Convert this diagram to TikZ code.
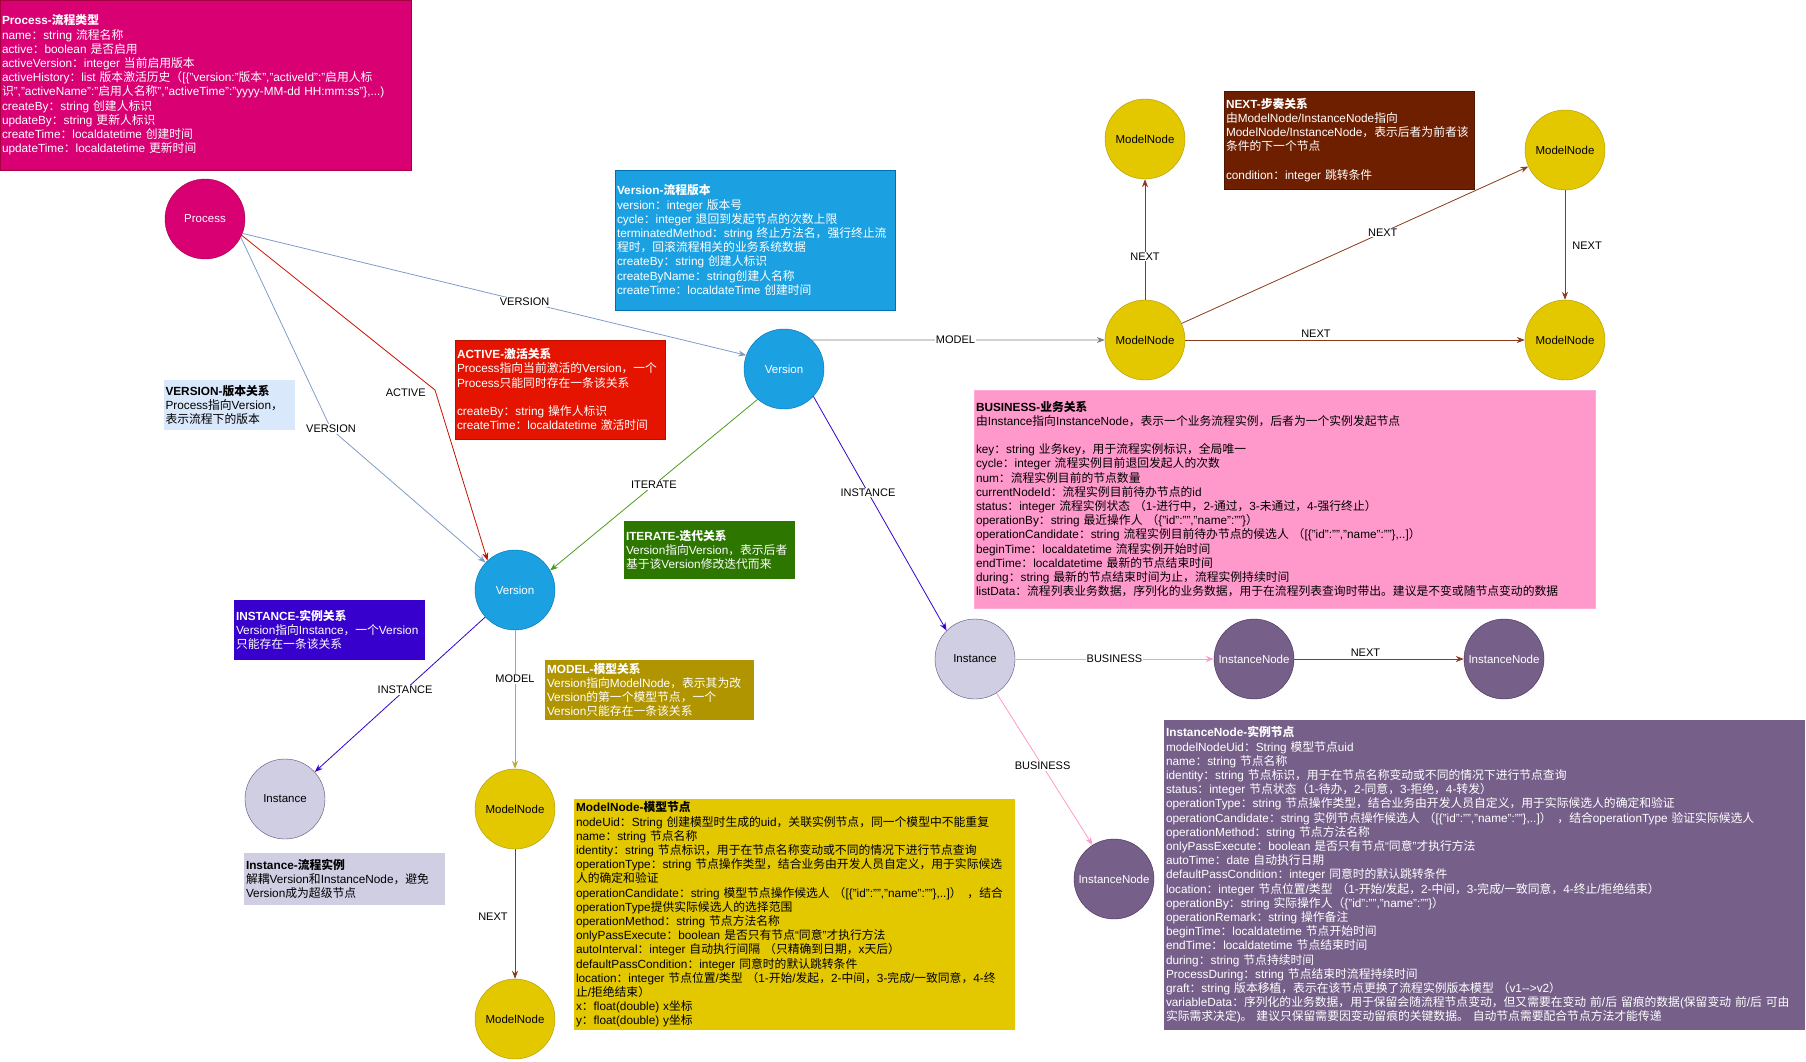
\documentclass[tikz,border=0pt]{standalone}
\usepackage{fontspec}
\setmainfont{Liberation Sans}
\newfontfamily\cjk{Noto Sans CJK SC}
\usetikzlibrary{arrows.meta}

% switch to the CJK font for Chinese characters
\XeTeXinterchartokenstate=1
\newXeTeXintercharclass\cjkcls
\newcount\cjkcnt
\cjkcnt="2E80
\loop
  \XeTeXcharclass\cjkcnt=\cjkcls
  \advance\cjkcnt by 1
\ifnum\cjkcnt<"A000 \repeat
\cjkcnt="FF00
\loop
  \XeTeXcharclass\cjkcnt=\cjkcls
  \advance\cjkcnt by 1
\ifnum\cjkcnt<"FFF0 \repeat
\XeTeXinterchartoks 0 \cjkcls = {\cjk}
\XeTeXinterchartoks 4095 \cjkcls = {\cjk}
\XeTeXinterchartoks \cjkcls 0 = {\rmfamily}
\XeTeXinterchartoks \cjkcls 4095 = {\rmfamily}

\definecolor{procfill}{HTML}{D80073}
\definecolor{procline}{HTML}{A50040}
\definecolor{verfill}{HTML}{1BA1E2}
\definecolor{verline}{HTML}{006EAF}
\definecolor{modfill}{HTML}{E3C800}
\definecolor{modline}{HTML}{B09500}
\definecolor{instfill}{HTML}{D0CEE2}
\definecolor{instline}{HTML}{56517E}
\definecolor{inodefill}{HTML}{76608A}
\definecolor{inodeline}{HTML}{432D57}
\definecolor{nextfill}{HTML}{6D1F00}
\definecolor{busfill}{HTML}{FF99CC}
\definecolor{actfill}{HTML}{E51400}
\definecolor{vrelfill}{HTML}{DAE8FC}
\definecolor{itfill}{HTML}{2D7600}
\definecolor{irelfill}{HTML}{3700CC}
\definecolor{verlink}{HTML}{7F9CC8}
\definecolor{itlink}{HTML}{4D9A1A}
\definecolor{nextlink}{HTML}{8A3A1A}
\definecolor{buslink}{HTML}{FF99CC}

\tikzset{
  txt/.style={font=\fontsize{11.8}{14.2}\selectfont},
  circ/.style={circle, minimum size=80, inner sep=0pt, font=\fontsize{11.5}{13}\selectfont},
  infobox/.style={rectangle, inner sep=2pt, align=left, txt},
  link/.style={-{Stealth[length=8pt,width=6pt]}, line width=0.8pt},
  lbl/.style={fill=white, inner sep=1pt, text=black, font=\fontsize{11}{12}\selectfont}
}

\begin{document}
\begin{tikzpicture}[x=1pt, y=-1pt]
    \useasboundingbox (0,0) rectangle (1806,1061);

    % circles
    \node[circ, fill=procfill, draw=procline, text=white] (proc) at (205,219) {Process};
    \node[circ, fill=verfill, draw=verline, text=white] (verT) at (784,369) {Version};
    \node[circ, fill=verfill, draw=verline, text=white] (verB) at (515,590) {Version};
    \node[circ, fill=instfill, draw=instline] (instL) at (285,799) {Instance};
    \node[circ, fill=instfill, draw=instline] (instM) at (975,659) {Instance};
    \node[circ, fill=modfill, draw=modline] (mnV) at (515,809) {ModelNode};
    \node[circ, fill=modfill, draw=modline] (mnV2) at (515,1019) {ModelNode};
    \node[circ, fill=modfill, draw=modline] (mnA) at (1145,340) {ModelNode};
    \node[circ, fill=modfill, draw=modline] (mnB) at (1145,139) {ModelNode};
    \node[circ, fill=modfill, draw=modline] (mnC) at (1565,150) {ModelNode};
    \node[circ, fill=modfill, draw=modline] (mnD) at (1565,340) {ModelNode};
    \node[circ, fill=inodefill, draw=inodeline, text=white] (inA) at (1254,659) {InstanceNode};
    \node[circ, fill=inodefill, draw=inodeline, text=white] (inB) at (1504,659) {InstanceNode};
    \node[circ, fill=inodefill, draw=inodeline, text=white] (inC) at (1114,879) {InstanceNode};

    % description boxes
    \node[infobox, fill=procfill, draw=procline, text=white, minimum width=411, minimum height=170, text width=407] (procbox) at (205.5,85) {\textbf{Process-流程类型}\\
name：string 流程名称\\
active：boolean 是否启用\\
activeVersion：integer 当前启用版本\\
activeHistory：list 版本激活历史（[\{"version:"版本","activeId":"启用人标\\
识","activeName":"启用人名称","activeTime":"yyyy-MM-dd HH:mm:ss"\},...)\\
createBy：string 创建人标识\\
updateBy：string 更新人标识\\
createTime：localdatetime 创建时间\\
updateTime：localdatetime 更新时间};
    \node[infobox, fill=verfill, draw=verline, text=white, minimum width=280, minimum height=140, text width=276] (verbox) at (755,240) {\textbf{Version-流程版本}\\
version：integer 版本号\\
cycle：integer 退回到发起节点的次数上限\\
terminatedMethod：string 终止方法名，强行终止流\\
程时，回滚流程相关的业务系统数据\\
createBy：string 创建人标识\\
createByName：string创建人名称\\
createTime：localdateTime 创建时间};
    \node[infobox, fill=nextfill, draw=nextfill!70!black, text=white, minimum width=250, minimum height=98, text width=246] (nextbox) at (1349,140) {\textbf{NEXT-步奏关系}\\
由ModelNode/InstanceNode指向\\
ModelNode/InstanceNode，表示后者为前者该\\
条件的下一个节点\\[14.2pt]
condition：integer 跳转条件};
    \node[infobox, fill=busfill, draw=busfill!80!white, minimum width=621, minimum height=218, text width=617] (busbox) at (1284.5,499) {\textbf{BUSINESS-业务关系}\\
由Instance指向InstanceNode，表示一个业务流程实例，后者为一个实例发起节点\\[14.2pt]
key：string 业务key，用于流程实例标识，全局唯一\\
cycle：integer 流程实例目前退回发起人的次数\\
num：流程实例目前的节点数量\\
currentNodeId：流程实例目前待办节点的id\\
status：integer 流程实例状态 （1-进行中，2-通过，3-未通过，4-强行终止）\\
operationBy：string 最近操作人 （\{"id":"","name":""\}）\\
operationCandidate：string 流程实例目前待办节点的候选人 （[\{"id":"","name":""\},..]）\\
beginTime：localdatetime 流程实例开始时间\\
endTime：localdatetime 最新的节点结束时间\\
during：string 最新的节点结束时间为止，流程实例持续时间\\
listData：流程列表业务数据，序列化的业务数据，用于在流程列表查询时带出。建议是不变或随节点变动的数据};
    \node[infobox, fill=actfill, draw=actfill!80!black, text=white, minimum width=210, minimum height=99, text width=206] (actbox) at (560,389.5) {\textbf{ACTIVE-激活关系}\\
Process指向当前激活的Version，一个\\
Process只能同时存在一条该关系\\[14.2pt]
createBy：string 操作人标识\\
createTime：localdatetime 激活时间};
    \node[infobox, fill=vrelfill, minimum width=131, minimum height=50, text width=127] (vrelbox) at (229,405) {\textbf{VERSION-版本关系}\\
Process指向Version，\\
表示流程下的版本};
    \node[infobox, fill=itfill, text=white, minimum width=171, minimum height=58, text width=167] (itbox) at (709.5,550) {\textbf{ITERATE-迭代关系}\\
Version指向Version，表示后者\\
基于该Version修改迭代而来};
    \node[infobox, fill=irelfill, text=white, minimum width=191, minimum height=60, text width=187] (irelbox) at (329.5,630) {\textbf{INSTANCE-实例关系}\\
Version指向Instance，一个Version\\
只能存在一条该关系};
    \node[infobox, fill=modline, text=white, minimum width=209, minimum height=60, text width=205] (mrelbox) at (649.5,690) {\textbf{MODEL-模型关系}\\
Version指向ModelNode，表示其为改\\
Version的第一个模型节点，一个\\
Version只能存在一条该关系};
    \node[infobox, fill=instfill, minimum width=201, minimum height=52, text width=197] (instbox) at (344.5,879) {\textbf{Instance-流程实例}\\
解耦Version和InstanceNode，避免\\
Version成为超级节点};
    \node[infobox, fill=modfill, minimum width=441, minimum height=231, text width=437] (mnbox) at (794.5,914.5) {\textbf{ModelNode-模型节点}\\
nodeUid：String 创建模型时生成的uid，关联实例节点，同一个模型中不能重复\\
name：string 节点名称\\
identity：string 节点标识，用于在节点名称变动或不同的情况下进行节点查询\\
operationType：string 节点操作类型，结合业务由开发人员自定义，用于实际候选\\
人的确定和验证\\
operationCandidate：string 模型节点操作候选人 （[\{"id":"","name":""\},..]） ，结合\\
operationType提供实际候选人的选择范围\\
operationMethod：string 节点方法名称\\
onlyPassExecute：boolean 是否只有节点“同意”才执行方法\\
autoInterval：integer 自动执行间隔 （只精确到日期，x天后）\\
defaultPassCondition：integer 同意时的默认跳转条件\\
location：integer 节点位置/类型 （1-开始/发起，2-中间，3-完成/一致同意，4-终\\
止/拒绝结束）\\
x：float(double) x坐标\\
y：float(double) y坐标};
    \node[infobox, fill=inodefill, text=white, minimum width=641, minimum height=310, text width=637] (inbox) at (1484.5,875) {\textbf{InstanceNode-实例节点}\\
modelNodeUid：String 模型节点uid\\
name：string 节点名称\\
identity：string 节点标识，用于在节点名称变动或不同的情况下进行节点查询\\
status：integer 节点状态（1-待办，2-同意，3-拒绝，4-转发）\\
operationType：string 节点操作类型，结合业务由开发人员自定义，用于实际候选人的确定和验证\\
operationCandidate：string 实例节点操作候选人 （[\{"id":"","name":""\},..]） ，结合operationType 验证实际候选人\\
operationMethod：string 节点方法名称\\
onlyPassExecute：boolean 是否只有节点“同意”才执行方法\\
autoTime：date 自动执行日期\\
defaultPassCondition：integer 同意时的默认跳转条件\\
location：integer 节点位置/类型 （1-开始/发起，2-中间，3-完成/一致同意，4-终止/拒绝结束）\\
operationBy：string 实际操作人（\{"id":"","name":""\}）\\
operationRemark：string 操作备注\\
beginTime：localdatetime 节点开始时间\\
endTime：localdatetime 节点结束时间\\
during：string 节点持续时间\\
ProcessDuring：string 节点结束时流程持续时间\\
graft：string 版本移植，表示在该节点更换了流程实例版本模型 （v1-\kern0pt-\kern0pt>v2）\\
variableData：序列化的业务数据，用于保留会随流程节点变动，但又需要在变动 前/后 留痕的数据(保留变动 前/后 可由\\
实际需求决定)。 建议只保留需要因变动留痕的关键数据。 自动节点需要配合节点方法才能传递};

    % connectors
    \coordinate (actbend) at (435,390);
    \coordinate (verbend) at (331,429);
    \draw[link, verlink] (proc.-21) -- node[lbl, pos=0.56] {VERSION} (verT.160);
    \draw[link, verlink] (proc.-27) -- (verbend) node[lbl] {VERSION} -- (verB.137);
    \draw[link, actfill!85!black] (proc.-24) -- (actbend) node[lbl, left=8pt, yshift=-3pt] {ACTIVE} -- (verB.133);
    \draw[link, itlink] (verT.229) -- node[lbl, pos=0.5] {ITERATE} (verB.29);
    \draw[link, irelfill] (verT.-43) -- node[lbl, pos=0.41] {INSTANCE} (instM.135);
    \draw[link, gray] (verT.46) -- node[lbl, pos=0.49] {MODEL} (mnA);
    \draw[link, irelfill] (verB) -- node[lbl, pos=0.47] {INSTANCE} (instL);
    \draw[link, modline!80!white] (verB) -- node[lbl, pos=0.35] {MODEL} (mnV);
    \draw[link, nextlink] (mnV) -- node[lbl, pos=0.52, left=6pt] {NEXT} (mnV2);
    \draw[link, nextlink] (mnA) -- node[lbl, pos=0.36] {NEXT} (mnB);
    \draw[link, nextlink] (mnA) -- node[lbl, pos=0.58] {NEXT} (mnC);
    \draw[link, nextlink] (mnC) -- node[lbl, pos=0.51, right=6pt] {NEXT} (mnD);
    \draw[link, nextlink] (mnA) -- node[lbl, pos=0.385, above=1pt] {NEXT} (mnD);
    \draw[link, buslink] (instM) -- node[lbl, pos=0.5] {BUSINESS} (inA);
    \draw[link, nextlink] (inA) -- node[lbl, pos=0.42, above=1pt] {NEXT} (inB);
    \draw[link, buslink] (instM) -- node[lbl, pos=0.48] {BUSINESS} (inC);
\end{tikzpicture}
\end{document}
